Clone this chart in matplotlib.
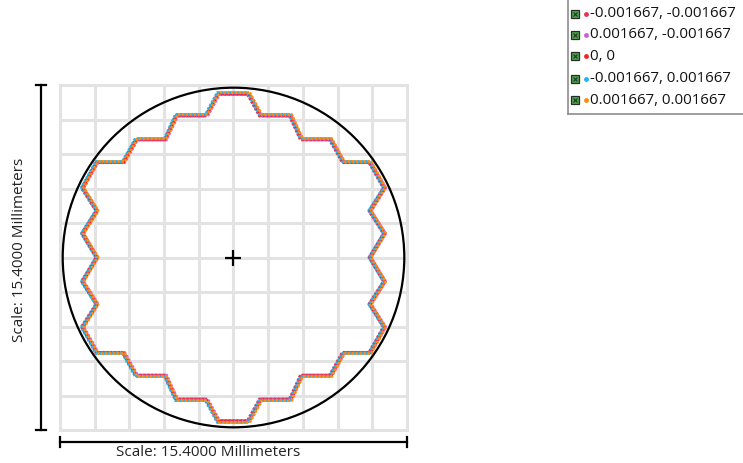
import numpy as np
import matplotlib.pyplot as plt
from matplotlib.patches import Circle

# Footprint outline of the image (mm), traced clockwise from the top
outline_x = [0.67, 1.20, 2.53, 3.02, 4.31, 4.88, 6.06, 6.70, 6.06, 6.70, 6.06,
             6.70, 6.06, 6.70, 6.06, 4.88, 4.31, 3.02, 2.53, 1.20, 0.67,
             -0.67, -1.20, -2.53, -3.02, -4.31, -4.88, -6.06, -6.70, -6.06, -6.70,
             -6.06, -6.70, -6.06, -6.70, -6.06, -4.88, -4.31, -3.02, -2.53, -1.20,
             -0.67, 0.67]
outline_y = [7.32, 6.35, 6.35, 5.28, 5.28, 4.26, 4.26, 3.11, 2.09, 1.07, 0.00,
             -1.07, -2.09, -3.11, -4.26, -4.26, -5.28, -5.28, -6.35, -6.35, -7.32,
             -7.32, -6.35, -6.35, -5.28, -5.28, -4.26, -4.26, -3.11, -2.09, -1.07,
             0.00, 1.07, 2.09, 3.11, 4.26, 4.26, 5.28, 5.28, 6.35, 6.35,
             7.32, 7.32]

# Field points and how far each one's footprint moves
series_labels = ['-0.001667, -0.001667', '0.001667, -0.001667', '0, 0',
                 '-0.001667, 0.001667', '0.001667, 0.001667']
series_colors = ['#e8325a', '#c462d8', '#ff1f1f', '#1fb6ee', '#ff8c0a']
shift_x = [-0.05, 0.05, 0.0, -0.05, 0.05]
stretch_y = [0.994, 0.994, 1.0, 1.006, 1.006]

half_width = 7.7        # 15.4 mm box
circle_radius = 7.58
scale_text = 'Scale: 15.4000 Millimeters'

W, H = 743, 463
fig = plt.figure(figsize=(W / 100, H / 100), dpi=100)
plt.rcParams['font.family'] = ['Open Sans', 'DejaVu Sans']

ax = fig.add_axes([60 / W, 1 - 430 / H, 347 / W, 345 / H])
ax.set_xlim(-half_width, half_width)
ax.set_ylim(-half_width, half_width)
ticks = np.linspace(-half_width, half_width, 11)
ax.set_xticks(ticks)
ax.set_yticks(ticks)
ax.tick_params(length=0, labelbottom=False, labelleft=False)
ax.grid(True, color='#e3e3e3', linewidth=2.2)
for s in ax.spines.values():
    s.set_color('#e3e3e3')
    s.set_linewidth(2.2)
ax.set_axisbelow(True)

for lab, col, dx, sy in zip(series_labels, series_colors, shift_x, stretch_y):
    xs = np.array(outline_x) + dx
    ys = np.array(outline_y) * sy
    ax.plot(xs, ys, color=col, linewidth=2.0, linestyle=(0, (0.9, 0.5)),
            dash_capstyle='butt', label=lab)

ax.add_patch(Circle((0, 0), circle_radius, fill=False, edgecolor='black',
                    linewidth=1.6, zorder=5))
ax.plot([0], [0], marker='+', markersize=11, markeredgewidth=1.6,
        color='black', zorder=6)

# scale bars
px = 2 * half_width / 347
vx = -half_width - 19 * px
ax.plot([vx, vx], [-half_width, half_width], color='black', lw=1.6, clip_on=False)
for yy in (-half_width, half_width):
    ax.plot([vx - 5 * px, vx + 5 * px], [yy, yy], color='black', lw=1.6, clip_on=False)
hy = -half_width - 12 * px
ax.plot([-half_width, half_width], [hy, hy], color='black', lw=1.6, clip_on=False)
for xx in (-half_width, half_width):
    ax.plot([xx, xx], [hy - 5 * px, hy + 5 * px], color='black', lw=1.6, clip_on=False)

fig.text(208 / W, 1 - 452 / H, scale_text, ha='center', va='center',
         fontsize=11, color='#222222')
fig.text(20 / W, 1 - 250 / H, scale_text, ha='center', va='center',
         rotation=90, fontsize=11, color='#222222')

# legend panel
lax = fig.add_axes([568 / W, 1 - 114 / H, 175 / W, 114 / H])
lax.set_xlim(0, 175)
lax.set_ylim(114, 0)
lax.set_xticks([])
lax.set_yticks([])
for side in ('top', 'right'):
    lax.spines[side].set_visible(False)
for side in ('left', 'bottom'):
    lax.spines[side].set_color('#8c8c8c')
    lax.spines[side].set_linewidth(1.2)
row_y = [13.5, 35, 56, 78.5, 100]
for yy, lab, col in zip(row_y, series_labels, series_colors):
    lax.plot([7], [yy], marker='s', markersize=5.5, markerfacecolor='#4fa34f',
             markeredgecolor='#2b2b2b', markeredgewidth=0.9, clip_on=False)
    lax.plot([7], [yy], marker='x', markersize=3, markeredgewidth=0.8,
             color='#1c3a1c', clip_on=False)
    lax.plot([18], [yy], marker='o', markersize=3.5, color=col,
             markeredgewidth=0, clip_on=False)
    lax.text(22.5, yy, lab, ha='left', va='center', fontsize=10.8, color='#111111')

fig.savefig('out.png', dpi=100)
